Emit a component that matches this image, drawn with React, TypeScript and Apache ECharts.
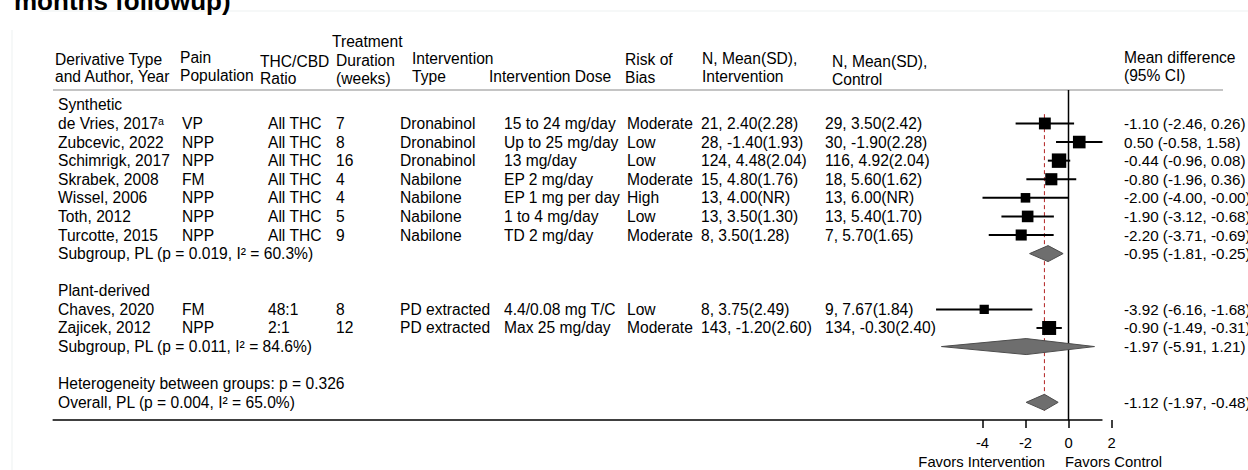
import React, { useEffect, useRef } from "react";
import * as echarts from "echarts";

const FONT = '"Liberation Sans", Arial, "DejaVu Sans", sans-serif';
const FS = 15.6;
const FS_CI = 15.2;
const FS_AXIS = 14.8;

// ---------- DATA ----------
const groupNames = ["Synthetic", "Plant-derived"];
const studyGroup = [0, 0, 0, 0, 0, 0, 0, 1, 1];
const studyNames = [
  "de Vries, 2017ᵃ",
  "Zubcevic, 2022",
  "Schimrigk, 2017",
  "Skrabek, 2008",
  "Wissel, 2006",
  "Toth, 2012",
  "Turcotte, 2015",
  "Chaves, 2020",
  "Zajicek, 2012",
];
const painPopulation = ["VP", "NPP", "NPP", "FM", "NPP", "NPP", "NPP", "FM", "NPP"];
const thcCbdRatio = ["All THC", "All THC", "All THC", "All THC", "All THC", "All THC", "All THC", "48:1", "2:1"];
const durationWeeks = ["7", "8", "16", "4", "4", "5", "9", "8", "12"];
const interventionType = [
  "Dronabinol", "Dronabinol", "Dronabinol", "Nabilone", "Nabilone", "Nabilone", "Nabilone",
  "PD extracted", "PD extracted",
];
const interventionDose = [
  "15 to 24 mg/day", "Up to 25 mg/day", "13 mg/day", "EP 2 mg/day", "EP 1 mg per day",
  "1 to 4 mg/day", "TD 2 mg/day", "4.4/0.08 mg T/C", "Max 25 mg/day",
];
const riskOfBias = ["Moderate", "Low", "Low", "Moderate", "High", "Low", "Moderate", "Low", "Moderate"];
const interventionStats = [
  "21, 2.40(2.28)", "28, -1.40(1.93)", "124, 4.48(2.04)", "15, 4.80(1.76)", "13, 4.00(NR)",
  "13, 3.50(1.30)", "8, 3.50(1.28)", "8, 3.75(2.49)", "143, -1.20(2.60)",
];
const controlStats = [
  "29, 3.50(2.42)", "30, -1.90(2.28)", "116, 4.92(2.04)", "18, 5.60(1.62)", "13, 6.00(NR)",
  "13, 5.40(1.70)", "7, 5.70(1.65)", "9, 7.67(1.84)", "134, -0.30(2.40)",
];
const meanDiff = [-1.1, 0.5, -0.44, -0.8, -2.0, -1.9, -2.2, -3.92, -0.9];
const ciLow = [-2.46, -0.58, -0.96, -1.96, -4.0, -3.12, -3.71, -6.16, -1.49];
const ciHigh = [0.26, 1.58, 0.08, 0.36, -0.004, -0.68, -0.69, -1.68, -0.31]; // -0.004 shown as "-0.00"
const studyWeight = [11.5, 13, 17, 12, 7.5, 11, 10, 7, 16];

const subgroupLabels = ["Subgroup, PL (p = 0.019, I² = 60.3%)", "Subgroup, PL (p = 0.011, I² = 84.6%)"];
const subgroupEst = [-0.95, -1.97];
const subgroupLow = [-1.81, -5.91];
const subgroupHigh = [-0.25, 1.21];

const heterogeneityLabel = "Heterogeneity between groups: p = 0.326";
const overallLabel = "Overall, PL (p = 0.004, I² = 65.0%)";
const overallEst = -1.12;
const overallLow = -1.97;
const overallHigh = -0.48;

const tickValues = [-4, -2, 0, 2];

const headerLines = [
  { text: "Derivative Type", x: 55, y: 59 },
  { text: "and Author, Year", x: 55, y: 76 },
  { text: "Pain", x: 180, y: 57 },
  { text: "Population", x: 180, y: 75 },
  { text: "THC/CBD", x: 260, y: 61 },
  { text: "Ratio", x: 260, y: 78 },
  { text: "Treatment", x: 332, y: 41 },
  { text: "Duration", x: 336, y: 60 },
  { text: "(weeks)", x: 336, y: 78 },
  { text: "Intervention", x: 412, y: 58 },
  { text: "Type", x: 412, y: 76 },
  { text: "Intervention Dose", x: 489, y: 76 },
  { text: "Risk of", x: 625, y: 59 },
  { text: "Bias", x: 625, y: 77 },
  { text: "N, Mean(SD),", x: 702, y: 58 },
  { text: "Intervention", x: 702, y: 76 },
  { text: "N, Mean(SD),", x: 832, y: 61 },
  { text: "Control", x: 832, y: 79 },
  { text: "Mean difference", x: 1124, y: 57 },
  { text: "(95% CI)", x: 1124, y: 75 },
];

// ---------- LAYOUT ----------
const COL_X: Record<string, number> = {
  name: 58, pain: 182, ratio: 268, dur: 336, type: 400, dose: 504,
  risk: 627, nInt: 701, nCtrl: 825, ci: 1124,
};
const X_MIN = -47.25;
const X_MAX = 2;
const Y_MIN = -0.8;
const Y_MAX = 16.95;

const fmt = (v: number) => v.toFixed(2);
const ciText = (e: number, l: number, h: number) => `${fmt(e)} (${fmt(l)}, ${fmt(h)})`;

// Build rows
type TRow = { row: number; cells: [string, string][] };
const tableRows: TRow[] = [];
const studyPoints: number[][] = [];
const diamonds: number[][] = [];
let r = 0;
groupNames.forEach((g, gi) => {
  tableRows.push({ row: r, cells: [["name", g]] });
  r++;
  studyNames.forEach((name, i) => {
    if (studyGroup[i] !== gi) return;
    tableRows.push({
      row: r,
      cells: [
        ["name", name], ["pain", painPopulation[i]], ["ratio", thcCbdRatio[i]], ["dur", durationWeeks[i]],
        ["type", interventionType[i]], ["dose", interventionDose[i]], ["risk", riskOfBias[i]],
        ["nInt", interventionStats[i]], ["nCtrl", controlStats[i]],
        ["ci", ciText(meanDiff[i], ciLow[i], ciHigh[i])],
      ],
    });
    studyPoints.push([meanDiff[i], ciLow[i], ciHigh[i], r, studyWeight[i]]);
    r++;
  });
  tableRows.push({
    row: r,
    cells: [["name", subgroupLabels[gi]], ["ci", ciText(subgroupEst[gi], subgroupLow[gi], subgroupHigh[gi])]],
  });
  diamonds.push([subgroupEst[gi], subgroupLow[gi], subgroupHigh[gi], r]);
  r++;
  r++; // blank
});
tableRows.push({ row: r, cells: [["name", heterogeneityLabel]] });
r++;
tableRows.push({ row: r, cells: [["name", overallLabel], ["ci", ciText(overallEst, overallLow, overallHigh)]] });
diamonds.push([overallEst, overallLow, overallHigh, r]);
const lastRow = r;

const maxHigh = Math.max(...ciHigh, ...subgroupHigh, overallHigh);

const textStyle = (text: string, size: number) => ({
  text,
  fill: "#000",
  fontSize: size,
  fontFamily: FONT,
  align: "left",
  verticalAlign: "middle",
  textAlign: "left",
  textVerticalAlign: "middle",
});

const option: any = {
  animation: false,
  backgroundColor: "#fff",
  grid: {
    left: 52.625,
    right: 136.5,
    top: 90,
    bottom: 50,
    outerBoundsMode: "none",
    containLabel: false,
  },
  xAxis: {
    type: "value",
    position: "bottom",
    min: X_MIN,
    max: X_MAX,
    axisLine: { show: false, onZero: false },
    splitLine: { show: false },
    axisTick: {
      show: true,
      customValues: tickValues,
      length: 8,
      lineStyle: { color: "#000", width: 1.5 },
    },
    axisLabel: {
      show: true,
      customValues: tickValues,
      margin: 15,
      color: "#000",
      fontSize: FS_AXIS,
      fontFamily: FONT,
    },
  },
  yAxis: {
    type: "value",
    inverse: true,
    min: Y_MIN,
    max: Y_MAX,
    show: false,
  },
  graphic: [
    { type: "line", shape: { x1: 40, y1: 11, x2: 1248, y2: 11 }, style: { stroke: "#edf1f1", lineWidth: 1 }, silent: true },
    { type: "line", shape: { x1: 12, y1: 30, x2: 12, y2: 470 }, style: { stroke: "#edf1f1", lineWidth: 1 }, silent: true },
    {
      type: "text",
      x: 14,
      y: 1,
      style: {
        text: "months followup)",
        fill: "#000",
        fontSize: 26,
        fontWeight: "bold",
        fontFamily: FONT,
        textAlign: "left",
        textVerticalAlign: "middle",
      },
    },
    { type: "line", shape: { x1: 53, y1: 90, x2: 1223, y2: 90 }, style: { stroke: "#c4c4c4", lineWidth: 2 }, silent: true },
    ...headerLines.map((h) => ({
      type: "text",
      x: h.x,
      y: h.y,
      style: {
        text: h.text,
        fill: "#000",
        fontSize: FS,
        fontFamily: FONT,
        textAlign: "left",
        textVerticalAlign: "middle",
      },
    })),
    {
      type: "text",
      x: 1045,
      y: 462,
      style: { text: "Favors Intervention", fill: "#000", fontSize: FS_AXIS, fontFamily: FONT, textAlign: "right", textVerticalAlign: "middle" },
    },
    {
      type: "text",
      x: 1065,
      y: 462,
      style: { text: "Favors Control", fill: "#000", fontSize: FS_AXIS, fontFamily: FONT, textAlign: "left", textVerticalAlign: "middle" },
    },
  ],
  series: [
    {
      type: "custom",
      name: "refs",
      clip: false,
      z: 1,
      data: [[overallEst, lastRow]],
      encode: { x: 0, y: 1 },
      renderItem: (params: any, api: any) => {
        const est = api.value(0);
        const top = api.coord([0, Y_MIN]);
        const bot = api.coord([0, Y_MAX]);
        const dTop = api.coord([est, 0.5]);
        const dBot = api.coord([est, lastRow + 0.45]);
        const aL = api.coord([X_MIN, Y_MAX]);
        const aR = api.coord([maxHigh, Y_MAX]);
        return {
          type: "group",
          children: [
            { type: "line", shape: { x1: dTop[0], y1: dTop[1], x2: dBot[0], y2: dBot[1] }, style: { stroke: "#b22222", lineWidth: 1, lineDash: [4, 3] } },
            { type: "line", shape: { x1: top[0], y1: top[1], x2: bot[0], y2: bot[1] }, style: { stroke: "#000", lineWidth: 1.5 } },
            { type: "line", shape: { x1: aL[0], y1: aL[1], x2: aR[0], y2: aR[1] }, style: { stroke: "#000", lineWidth: 1.6 } },
          ],
        };
      },
    },
    {
      type: "custom",
      name: "studies",
      clip: false,
      z: 3,
      data: studyPoints,
      encode: { x: [0, 1, 2], y: 3 },
      renderItem: (params: any, api: any) => {
        const c = api.coord([api.value(0), api.value(3)]);
        const l = api.coord([api.value(1), api.value(3)]);
        const h = api.coord([api.value(2), api.value(3)]);
        const s = 3.5 * Math.sqrt(api.value(4));
        return {
          type: "group",
          children: [
            { type: "line", shape: { x1: l[0], y1: l[1], x2: h[0], y2: h[1] }, style: { stroke: "#000", lineWidth: 2 } },
            { type: "rect", shape: { x: c[0] - s / 2, y: c[1] - s / 2, width: s, height: s }, style: { fill: "#000" } },
          ],
        };
      },
    },
    {
      type: "custom",
      name: "diamonds",
      clip: false,
      z: 3,
      data: diamonds,
      encode: { x: [0, 1, 2], y: 3 },
      renderItem: (params: any, api: any) => {
        const c = api.coord([api.value(0), api.value(3)]);
        const l = api.coord([api.value(1), api.value(3)]);
        const h = api.coord([api.value(2), api.value(3)]);
        const hh = 8;
        return {
          type: "polygon",
          shape: { points: [[l[0], l[1]], [c[0], c[1] - hh], [h[0], h[1]], [c[0], c[1] + hh]] },
          style: { fill: "#6e6e6e", stroke: "#4d4d4d", lineWidth: 1 },
        };
      },
    },
    {
      type: "custom",
      name: "table",
      clip: false,
      z: 2,
      data: tableRows.map((t) => [0, t.row]),
      encode: { x: 0, y: 1 },
      renderItem: (params: any, api: any) => {
        const t = tableRows[params.dataIndex];
        const y = api.coord([0, api.value(1)])[1];
        return {
          type: "group",
          children: t.cells.map(([col, text]) => ({
            type: "text",
            x: COL_X[col],
            y,
            style: textStyle(text, col === "ci" ? FS_CI : FS),
          })),
        };
      },
    },
  ],
};

export default function App() {
  const ref = useRef<HTMLDivElement>(null);
  useEffect(() => {
    const chart = echarts.init(ref.current!, null, { renderer: "svg" });
    chart.setOption(option);
    return () => chart.dispose();
  }, []);
  return (
    <div
      ref={ref}
      style={{ position: "absolute", left: 0, top: 0, width: 1248, height: 470, background: "#fff" }}
    />
  );
}
